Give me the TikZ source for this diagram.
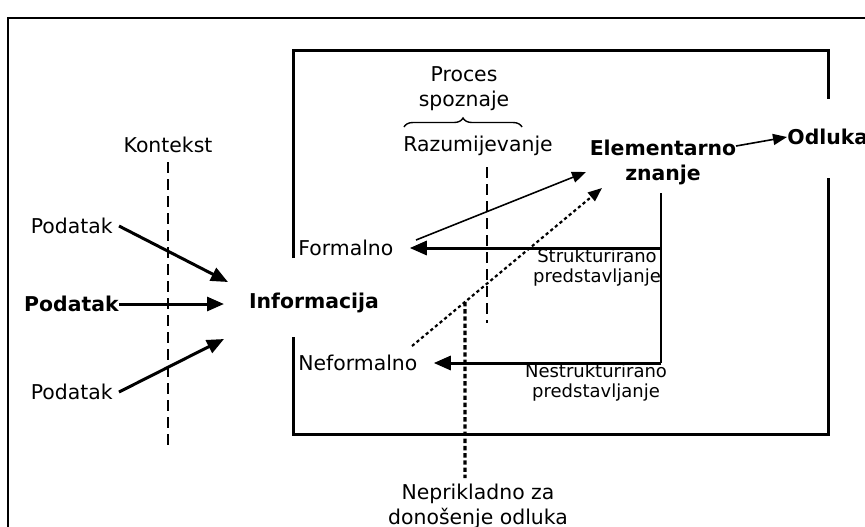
\documentclass[tikz,border=0pt]{standalone}
\usepackage{fontspec}
\setmainfont{DejaVu Sans}
\usetikzlibrary{arrows.meta,decorations.pathreplacing,calc}
\begin{document}
\begin{tikzpicture}[x=0.5pt,y=-0.5pt,
  lbl/.style={inner sep=0pt,font=\fontsize{10.2}{12.5}\selectfont,align=center},
  blbl/.style={lbl,font=\fontsize{10.2}{12.5}\selectfont\bfseries},
  slbl/.style={inner sep=0pt,font=\fontsize{9}{10}\selectfont,align=center},
  arr/.style={line width=1.5pt,-{Triangle[length=8.5pt,width=7pt]}},
  thinarr/.style={line width=0.8pt,-{Triangle[length=7pt,width=5.5pt]}},
  dotarr/.style={line width=1.1pt,dash pattern=on 1.6pt off 1.4pt,-{Triangle[length=7pt,width=5.5pt]}},
  boxline/.style={line width=1.5pt},
  ctxdash/.style={line width=1pt,dash pattern=on 5.5pt off 3pt},
  unsuit/.style={line width=1.7pt,dash pattern=on 2.2pt off 1.4pt}]
\useasboundingbox (0,0) rectangle (865,526);
% outer frame
\draw[line width=0.9pt] (8,540) -- (8,18) -- (880,18);
% inner box
\draw[boxline] (293,258) -- (293,50) -- (828,50) -- (828,99);
\draw[boxline] (828,178) -- (828,434) -- (293,434) -- (293,337);
% texts
\node[lbl] (kont) at (168,145) {Kontekst};
\node[lbl] (proc) at (464,89) {Proces\\spoznaje};
\node[lbl] (razum) at (478,146) {Razumijevanje};
\node[blbl] (elem) at (663,162) {Elementarno\\znanje};
\node[blbl,anchor=west] (odl) at (787,137) {Odluka};
\node[lbl,anchor=east] (pod1) at (113,226) {Podatak};
\node[blbl,anchor=east] (pod2) at (119,304) {Podatak};
\node[lbl,anchor=east] (pod3) at (113,392) {Podatak};
\node[blbl] (info) at (314,303) {Informacija};
\node[lbl,anchor=west] (form) at (298,248) {Formalno};
\node[lbl,anchor=west] (neform) at (298,363) {Neformalno};
\node[slbl] (strukt) at (597,268) {Strukturirano\\predstavljanje};
\node[slbl] (nestrukt) at (596,383) {Nestrukturirano\\predstavljanje};
\node[lbl] (nepr) at (478,506) {Neprikladno za\\donošenje odluka};
% brace
\coordinate (brL) at (404,127);
\coordinate (brR) at (522,127);
\draw[line width=0.7pt,decorate,decoration={brace,amplitude=4.5pt}] (brL) -- (brR);
% context dashed line
\coordinate (ctxT) at (168,162);
\coordinate (ctxB) at (168,448);
\draw[ctxdash] (ctxT) -- (ctxB);
% razumijevanje dashed line
\coordinate (razT) at (487,167);
\coordinate (razB) at (487,323);
\draw[ctxdash] (razT) -- (razB);
% arrows into Informacija
\coordinate (in1) at (228,282);
\coordinate (in2) at (224,304);
\coordinate (in3) at (224,339);
\draw[arr] ([xshift=3pt]pod1.east) -- (in1);
\draw[arr] (pod2.east) -- (in2);
\draw[arr] ([xshift=3pt]pod3.east) -- (in3);
% Formalno -> Elementarno
\coordinate (fs) at (416,240);
\coordinate (fe) at (586,172);
\draw[thinarr] (fs) -- (fe);
% Neformalno dotted -> Elementarno
\coordinate (ns) at (412,346);
\coordinate (ne) at (602,188);
\draw[dotarr] (ns) -- (ne);
% Elementarno -> Odluka
\coordinate (es) at (736,146);
\draw[thinarr] (es) -- (odl.west);
% representation lines
\coordinate (vT) at (661,193);
\coordinate (vS) at (661,248);
\coordinate (vN) at (661,363);
\draw[line width=1.3pt] (vT) -- (vN);
\draw[arr] (vS) -- ([xshift=8pt]form.east);
\draw[arr] (vN) -- ([xshift=8pt]neform.east);
% unsuitable dotted
\coordinate (uT) at ($(ns)!0.279!(ne)$);
\coordinate (uB) at (465,478);
\draw[unsuit] (uT) -- (uB);
\end{tikzpicture}
\end{document}
